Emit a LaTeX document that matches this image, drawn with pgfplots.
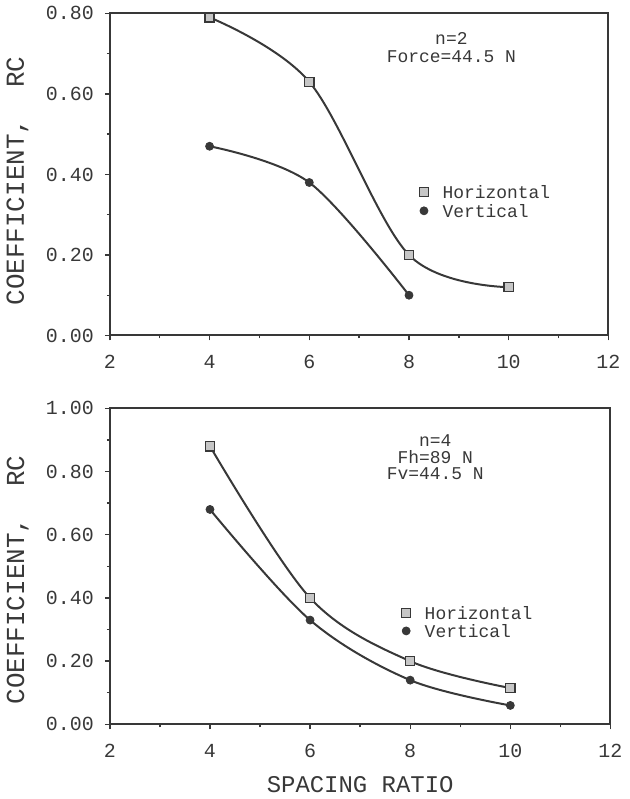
\documentclass[border=0pt]{standalone}
\usepackage{pgfplots}
\pgfplotsset{compat=1.18}
\usepackage{fontspec}
\setmainfont{Liberation Mono}
\definecolor{ink}{gray}{0.22}
\begin{document}
\begin{tikzpicture}
\pgfplotsset{
 myax/.style={
  scale only axis,
  xmin=2, xmax=12, ymin=0,
  xtick={2,4,...,12}, minor x tick num=1,
  minor y tick num=1,
  tick pos=left, tick align=outside,
  major tick length=2.5pt, minor tick length=1.5pt,
  axis line style={line width=1pt, color=ink},
  every tick/.style={ink, line width=0.7pt},
  /pgf/number format/assume math mode=true,
  ticklabel style={font=\fontsize{10}{10}\selectfont, color=ink},
  yticklabel style={/pgf/number format/fixed, /pgf/number format/fixed zerofill, /pgf/number format/precision=2, xshift=-2pt},
  xticklabel style={yshift=-4pt},
  ylabel={COEFFICIENT,\ \ RC},
  ylabel style={font=\fontsize{13}{13}\selectfont, color=ink, anchor=center},
  legend style={draw=none, fill=none, font=\fontsize{9}{9}\selectfont, text=ink, inner sep=0pt,
    nodes={inner sep=0pt, text height=6.5pt, text depth=2pt},
    row sep=1pt, column sep=7pt, anchor=north west},
  legend image code/.code={\draw[#1] plot coordinates {(0pt,1.2pt)};},
  legend cell align=left,
  clip=false,
 },
 hline/.style={ink, line width=1pt, smooth, tension=0.55, no marks},
 hmark/.style={only marks, mark=square*, mark size=2.3pt, mark options={fill=gray!45, draw=ink, line width=0.7pt}},
 vmark/.style={only marks, mark=*, mark size=2pt, mark options={fill=ink, draw=ink}},
}
% top axis
\begin{axis}[myax, at={(0,195pt)}, anchor=south west,
  width=250pt, height=161.5pt, ymax=0.8,
  ytick={0,0.2,...,0.8},
  ylabel style={at={(axis description cs:-0.185,0.48)}},
  legend style={at={(axis description cs:0.62,0.466)}}]
\addplot[hline, forget plot] coordinates {(4,0.79) (6,0.63) (8,0.20) (10,0.12)};
\addplot[hline, forget plot] coordinates {(4,0.47) (6,0.38) (8,0.10)};
\addplot[hmark] coordinates {(4,0.79) (6,0.63) (8,0.20) (10,0.12)};
\addlegendentry{Horizontal}
\addplot[vmark] coordinates {(4,0.47) (6,0.38) (8,0.10)};
\addlegendentry{Vertical}
\node[align=center, font=\fontsize{9}{9}\selectfont, text=ink] at (axis cs:8.85,0.715) {n=2\\Force=44.5 N};
\end{axis}
% bottom axis
\begin{axis}[myax, at={(0,0)}, anchor=south west,
  width=251pt, height=158.5pt, ymax=1.0,
  ytick={0,0.2,...,1.0},
  ylabel style={at={(axis description cs:-0.184,0.457)}},
  xlabel={SPACING RATIO},
  xlabel style={font=\fontsize{12}{12}\selectfont, color=ink, at={(axis description cs:0.5,0)}, anchor=center, yshift=-30pt},
  legend style={at={(axis description cs:0.582,0.373)}, row sep=0.5pt}]
\addplot[hline, forget plot] coordinates {(4,0.88) (6,0.40) (8,0.20) (10,0.115)};
\addplot[hline, forget plot] coordinates {(4,0.68) (6,0.33) (8,0.14) (10,0.06)};
\addplot[hmark] coordinates {(4,0.88) (6,0.40) (8,0.20) (10,0.115)};
\addlegendentry{Horizontal}
\addplot[vmark] coordinates {(4,0.68) (6,0.33) (8,0.14) (10,0.06)};
\addlegendentry{Vertical}
\node[align=center, font=\fontsize{9}{8.4}\selectfont, text=ink] at (axis cs:8.5,0.845) {n=4\\Fh=89 N\\Fv=44.5 N};
\end{axis}
\end{tikzpicture}
\end{document}
